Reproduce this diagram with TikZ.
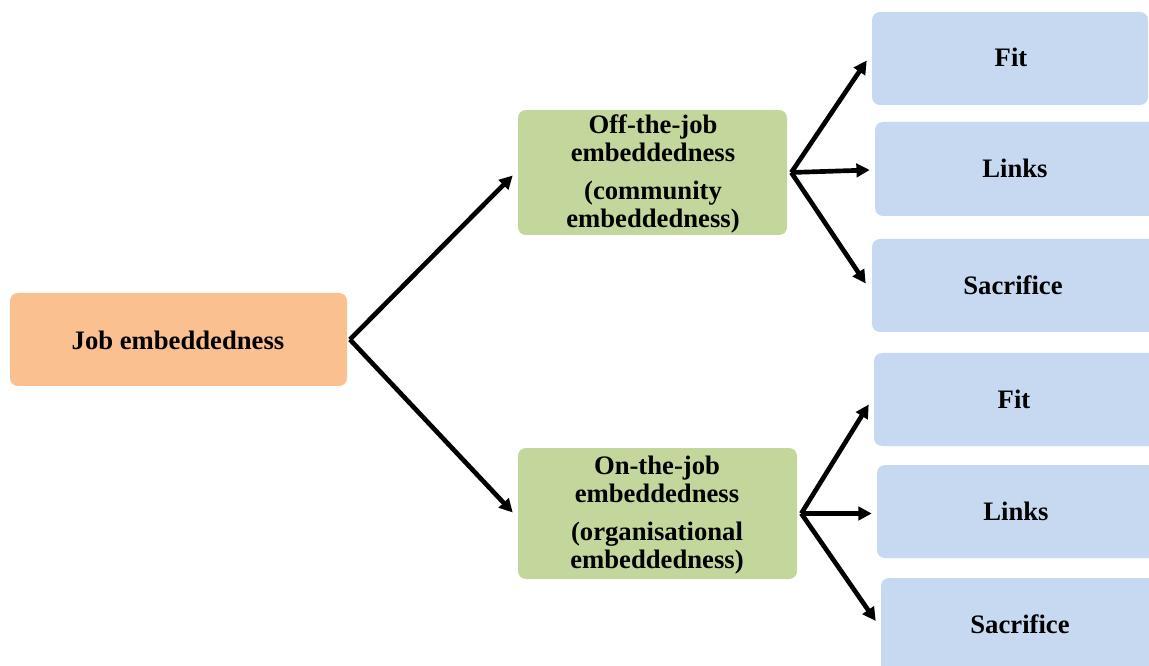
\documentclass[tikz,border=0pt]{standalone}
\usepackage{fontspec}
\setmainfont{Liberation Serif}
\usetikzlibrary{arrows.meta,fit}
\definecolor{orangebox}{HTML}{FAC090}
\definecolor{greenbox}{HTML}{C3D69B}
\definecolor{bluebox}{HTML}{C6D9F1}
\begin{document}
\begin{tikzpicture}[x=0.75pt,y=-0.75pt,
  box/.style={inner sep=0pt,rounded corners=6pt,draw=none},
  txt/.style={font=\bfseries\fontsize{20}{21}\selectfont,align=center,inner sep=0pt},
  arr/.style={line width=3.5pt,-{Triangle[length=10pt,width=10pt]}}]
\clip (0,0) rectangle (1149,666);
\fill[white] (0,0) rectangle (1149,666);
% main concept
\node[box,fill=orangebox,fit={(10,293) (347,386)}] (job) {};
\node[txt] (tjob) at (178,340) {Job embeddedness};
% two dimensions
\node[box,fill=greenbox,fit={(518,110) (787,235)}] (off) {};
\node[txt] (toff) at (653,174) {Off-the-job\\embeddedness\\[7pt](community\\embeddedness)};
\node[box,fill=greenbox,fit={(518,448) (797,579)}] (on) {};
\node[txt] (ton) at (657,515) {On-the-job\\embeddedness\\[7pt](organisational\\embeddedness)};
% components
\node[box,fill=bluebox,fit={(872,12) (1148,105)}] (fitA) {};
\node[box,fill=bluebox,fit={(875,122) (1160,216)}] (linkA) {};
\node[box,fill=bluebox,fit={(872,239) (1160,332)}] (sacA) {};
\node[box,fill=bluebox,fit={(874,353) (1160,446)}] (fitB) {};
\node[box,fill=bluebox,fit={(877,465) (1160,558)}] (linkB) {};
\node[box,fill=bluebox,fit={(881,578) (1160,680)}] (sacB) {};
\node[txt] (tfitA) at (1011,57) {Fit};
\node[txt] (tlinkA) at (1015,168) {Links};
\node[txt] (tsacA) at (1013,285) {Sacrifice};
\node[txt] (tfitB) at (1014,399) {Fit};
\node[txt] (tlinkB) at (1016,511) {Links};
\node[txt] (tsacB) at (1020,624) {Sacrifice};
% connectors
\coordinate (jobout) at ([xshift=2]job.east);
\draw[arr] (jobout) -- ([shift={(-5,3)}]off.west);
\draw[arr] (jobout) -- ([shift={(-5,-1)}]on.west);
\coordinate (offout) at ([xshift=3]off.east);
\draw[arr] (offout) -- ([shift={(-5,2)}]fitA.west);
\draw[arr] (offout) -- ([shift={(-5,1)}]linkA.west);
\draw[arr] (offout) -- ([shift={(-6,-2)}]sacA.west);
\coordinate (onout) at ([xshift=3]on.east);
\draw[arr] (onout) -- ([shift={(-5,5)}]fitB.west);
\draw[arr] (onout) -- ([shift={(-5,2)}]linkB.west);
\draw[arr] (onout) -- ([shift={(-5,-8)}]sacB.west);
\end{tikzpicture}
\end{document}
